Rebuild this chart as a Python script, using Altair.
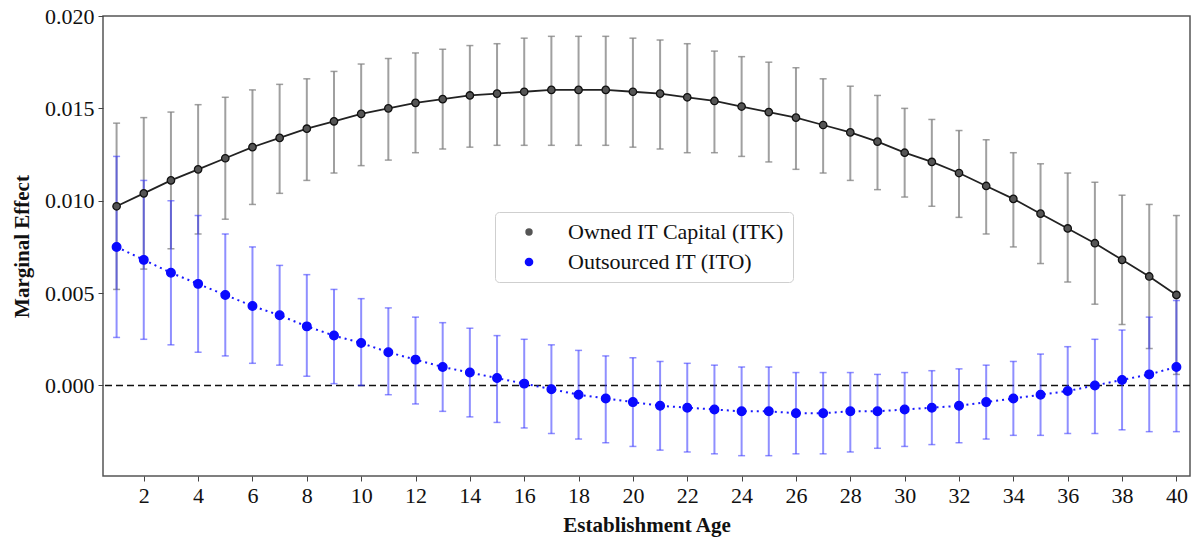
import altair as alt
import pandas as pd

ages = list(range(1, 41))

itk_est = [0.0097, 0.0104, 0.0111, 0.0117, 0.0123, 0.0129, 0.0134, 0.0139, 0.0143, 0.0147,
           0.0150, 0.0153, 0.0155, 0.0157, 0.0158, 0.0159, 0.0160, 0.0160, 0.0160, 0.0159,
           0.0158, 0.0156, 0.0154, 0.0151, 0.0148, 0.0145, 0.0141, 0.0137, 0.0132, 0.0126,
           0.0121, 0.0115, 0.0108, 0.0101, 0.0093, 0.0085, 0.0077, 0.0068, 0.0059, 0.0049]
itk_lo = [0.0052, 0.0063, 0.0074, 0.0082, 0.0090, 0.0098, 0.0104, 0.0111, 0.0115, 0.0119,
          0.0122, 0.0126, 0.0128, 0.0129, 0.0130, 0.0130, 0.0130, 0.0130, 0.0130, 0.0129,
          0.0128, 0.0126, 0.0126, 0.0124, 0.0121, 0.0117, 0.0115, 0.0111, 0.0106, 0.0102,
          0.0097, 0.0091, 0.0082, 0.0075, 0.0066, 0.0056, 0.0044, 0.0033, 0.0020, 0.0006]
itk_hi = [0.0142, 0.0145, 0.0148, 0.0152, 0.0156, 0.0160, 0.0163, 0.0166, 0.0170, 0.0174,
          0.0177, 0.0180, 0.0182, 0.0184, 0.0185, 0.0188, 0.0189, 0.0189, 0.0189, 0.0188,
          0.0187, 0.0185, 0.0181, 0.0178, 0.0175, 0.0172, 0.0166, 0.0162, 0.0157, 0.0150,
          0.0144, 0.0138, 0.0133, 0.0126, 0.0120, 0.0115, 0.0110, 0.0103, 0.0098, 0.0092]

ito_est = [0.0075, 0.0068, 0.0061, 0.0055, 0.0049, 0.0043, 0.0038, 0.0032, 0.0027, 0.0023,
           0.0018, 0.0014, 0.0010, 0.0007, 0.0004, 0.0001, -0.0002, -0.0005, -0.0007, -0.0009,
           -0.0011, -0.0012, -0.0013, -0.0014, -0.0014, -0.0015, -0.0015, -0.0014, -0.0014, -0.0013,
           -0.0012, -0.0011, -0.0009, -0.0007, -0.0005, -0.0003, 0.0000, 0.0003, 0.0006, 0.0010]
ito_lo = [0.0026, 0.0025, 0.0022, 0.0018, 0.0016, 0.0012, 0.0011, 0.0005, 0.0001, -0.0000,
          -0.0005, -0.0010, -0.0014, -0.0017, -0.0020, -0.0023, -0.0026, -0.0029, -0.0031, -0.0033,
          -0.0035, -0.0036, -0.0037, -0.0038, -0.0038, -0.0037, -0.0037, -0.0036, -0.0034, -0.0033,
          -0.0032, -0.0031, -0.0029, -0.0027, -0.0027, -0.0026, -0.0026, -0.0024, -0.0025, -0.0025]
ito_hi = [0.0124, 0.0111, 0.0100, 0.0092, 0.0082, 0.0075, 0.0065, 0.0060, 0.0052, 0.0047,
          0.0042, 0.0037, 0.0034, 0.0031, 0.0027, 0.0025, 0.0022, 0.0019, 0.0016, 0.0015,
          0.0013, 0.0012, 0.0011, 0.0010, 0.0010, 0.0007, 0.0007, 0.0007, 0.0006, 0.0007,
          0.0008, 0.0009, 0.0011, 0.0013, 0.0017, 0.0021, 0.0025, 0.0030, 0.0037, 0.0046]

series_names = ["Owned IT Capital (ITK)", "Outsourced IT (ITO)"]
x_ticks = list(range(2, 41, 2))
y_ticks = [0.0, 0.005, 0.010, 0.015, 0.020]

rows = []
for i, a in enumerate(ages):
    rows.append({"age": a, "series": series_names[0], "est": itk_est[i], "lo": itk_lo[i], "hi": itk_hi[i]})
for i, a in enumerate(ages):
    rows.append({"age": a, "series": series_names[1], "est": ito_est[i], "lo": ito_lo[i], "hi": ito_hi[i]})
df = pd.DataFrame(rows)

FONT = "Liberation Serif"

xs = alt.Scale(domain=[0.5, 40.5], nice=False, zero=False)
ys = alt.Scale(domain=[-0.0049, 0.020], nice=False, zero=False)

x_enc = alt.X("age:Q", scale=xs, axis=alt.Axis(
    values=x_ticks, title="Establishment Age", grid=False, domain=False,
    tickSize=5, tickColor="#444", labelPadding=4, labelFontSize=22, labelFont=FONT,
    labelColor="#111", titleFont=FONT, titleFontSize=21, titleFontWeight="bold",
    titleColor="#111", titleY=49, titleBaseline="middle"))
y_axis = alt.Axis(
    values=y_ticks, format=".3f", title="Marginal Effect", grid=False, domain=False,
    tickSize=5, tickColor="#444", labelPadding=4, labelFontSize=22, labelFont=FONT,
    labelColor="#111", titleFont=FONT, titleFontSize=21, titleFontWeight="bold",
    titleColor="#111", titleX=-81, titleY=230, titleAlign="center", titleBaseline="middle")

base = alt.Chart(df)

zero = alt.Chart(pd.DataFrame({"z": [0.0]})).mark_rule(
    color="#111", strokeDash=[7, 4], strokeWidth=1.5
).encode(y=alt.Y("z:Q", scale=ys, axis=y_axis))

def err_layers(name, color, opacity):
    b = base.transform_filter(alt.datum.series == name)
    bar = b.mark_rule(color=color, opacity=opacity, strokeWidth=2).encode(
        x=x_enc, y=alt.Y("lo:Q", scale=ys, axis=y_axis), y2="hi:Q")
    cap_lo = b.mark_tick(color=color, opacity=opacity, orient="horizontal", size=7, thickness=1.5).encode(
        x=x_enc, y=alt.Y("lo:Q", scale=ys, axis=y_axis))
    cap_hi = b.mark_tick(color=color, opacity=opacity, orient="horizontal", size=7, thickness=1.5).encode(
        x=x_enc, y=alt.Y("hi:Q", scale=ys, axis=y_axis))
    return [bar, cap_lo, cap_hi]

itk_err = err_layers(series_names[0], "#808080", 0.75)
ito_err = err_layers(series_names[1], "#3333ff", 0.55)

itk_line = base.transform_filter(alt.datum.series == series_names[0]).mark_line(
    color="#222", strokeWidth=1.8).encode(x=x_enc, y=alt.Y("est:Q", scale=ys, axis=y_axis))
ito_line = base.transform_filter(alt.datum.series == series_names[1]).mark_line(
    color="#1a1aff", strokeWidth=2, strokeDash=[2, 4]).encode(x=x_enc, y=alt.Y("est:Q", scale=ys, axis=y_axis))

points = base.mark_circle(opacity=1, strokeWidth=1.3).encode(
    x=x_enc,
    y=alt.Y("est:Q", scale=ys, axis=y_axis),
    color=alt.Color("series:N", scale=alt.Scale(domain=series_names, range=["#555555", "#0a0aff"]),
                    legend=alt.Legend(title=None, orient="none", legendX=392, legendY=196,
                                      labelFont=FONT, labelFontSize=22, labelColor="#111",
                                      symbolType="circle", symbolSize=45, symbolStrokeWidth=0,
                                      fillColor="white", strokeColor="#cfcfcf", cornerRadius=4,
                                      padding=9, rowPadding=8, labelOffset=28, symbolOffset=14,
                                      labelLimit=400)),
    stroke=alt.Stroke("series:N", scale=alt.Scale(domain=series_names, range=["#111111", "#0a0aff"]), legend=None),
    size=alt.Size("series:N", scale=alt.Scale(domain=series_names, range=[55, 75]), legend=None),
)

chart = alt.layer(
    zero, *itk_err, *ito_err, itk_line, ito_line, points
).properties(
    width=1087, height=460,
    autosize=alt.AutoSizeParams(type="none"),
    padding={"left": 103, "top": 16, "right": 3, "bottom": 61},
).configure_view(
    stroke="#555", strokeWidth=1.5
).configure_legend(
    symbolStrokeWidth=0
)

chart.save("out.html", embed_options={"renderer": "svg", "actions": False})
